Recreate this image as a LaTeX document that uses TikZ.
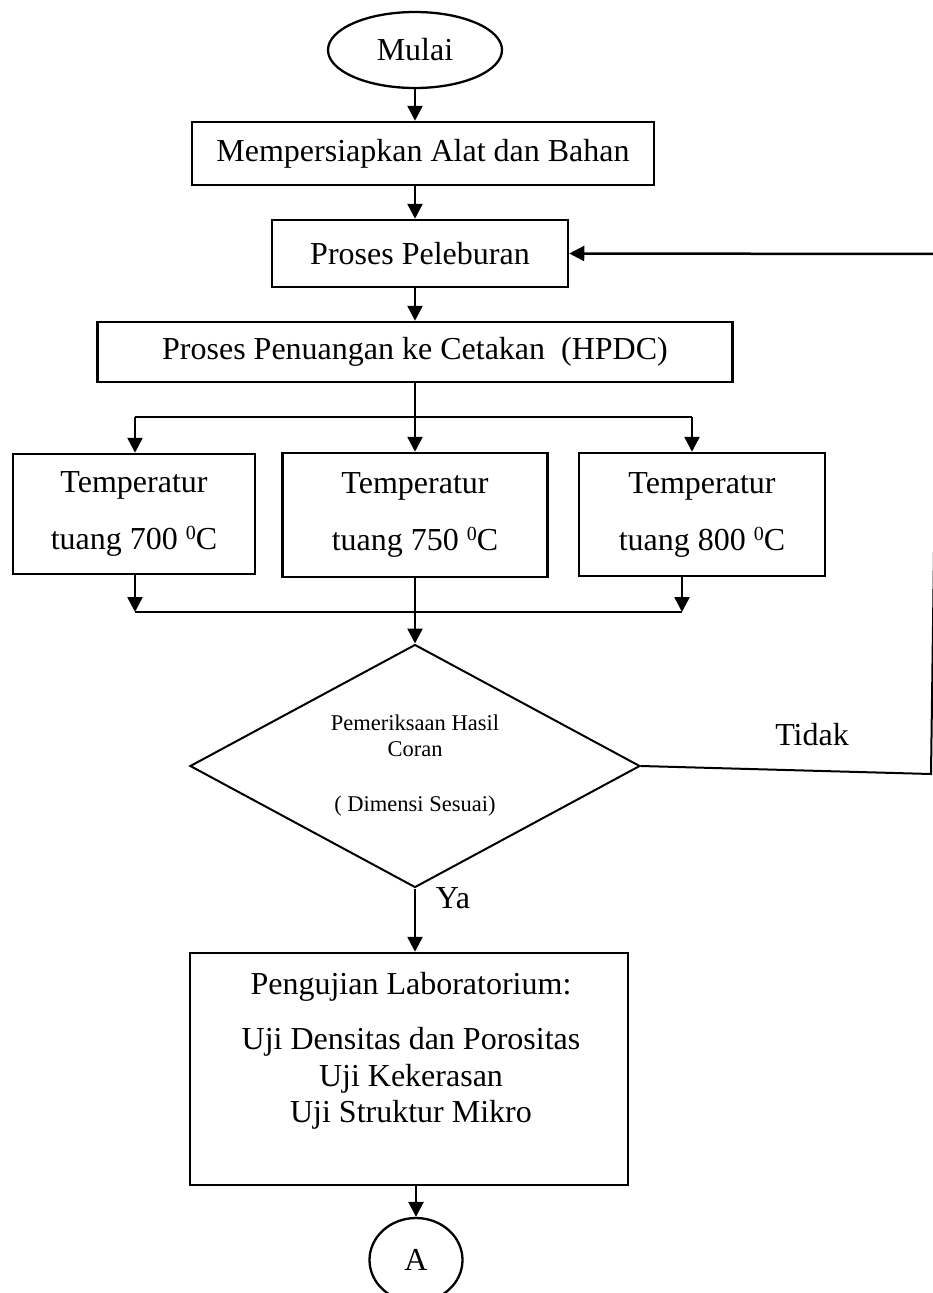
\documentclass[tikz,border=0pt]{standalone}
\usepackage{fontspec}
\setmainfont{Liberation Serif}
\usetikzlibrary{arrows.meta,shapes.geometric}
\newcommand{\degsup}{\raisebox{10pt}{\fontsize{20}{20}\selectfont 0}}
\begin{document}
\begin{tikzpicture}[x=1pt,y=-1pt,
  box/.style={draw, line width=2.5pt, rectangle, inner sep=0pt, align=center, font=\fontsize{32}{57}\selectfont},
  oval/.style={draw, line width=2.3pt, ellipse, inner sep=0pt, font=\fontsize{32}{38}\selectfont},
  arr/.style={line width=2.5pt, -{Triangle[length=15pt,width=15pt]}},
  ln/.style={line width=2.5pt},
  thin/.style={line width=2pt},
  lbl/.style={inner sep=0pt, font=\fontsize{32}{38}\selectfont}]
\useasboundingbox (0,0) rectangle (933,1293);

\node[oval, minimum width=174pt, minimum height=76pt] (mulai) at (415,50) {Mulai};
\node[box, minimum width=462pt, minimum height=63pt] (siap) at (423,153.5) {Mempersiapkan Alat dan Bahan};
\node[box, minimum width=296pt, minimum height=67pt] (lebur) at (420,253.5) {Proses Peleburan};
\node[box, minimum width=635pt, minimum height=60pt] (tuang) at (415,352) {Proses Penuangan ke Cetakan\ \ (HPDC)};

\node[box, minimum width=242pt, minimum height=120pt] (t1) at (134,514) {Temperatur\\tuang 700 \degsup C};
\node[box, minimum width=265pt, minimum height=124pt] (t2) at (415,515) {Temperatur\\tuang 750 \degsup C};
\node[box, minimum width=246pt, minimum height=123pt] (t3) at (702,514.5) {Temperatur\\tuang 800 \degsup C};

\node[draw, diamond, thin, shape aspect=1.85, minimum width=450pt, minimum height=243pt, inner sep=0pt, align=center, font=\fontsize{22.5}{26}\selectfont] (dia) at (415,766) {Pemeriksaan Hasil\\Coran\\[29pt]( Dimensi Sesuai)};

\node[box, minimum width=438pt, minimum height=232pt] (uji) at (409,1069) {};
\node[lbl, align=center, font=\fontsize{32}{36.5}\selectfont] (ujitext) at (411,1051) {Pengujian Laboratorium:\\[18.5pt]Uji Densitas dan Porositas\\Uji Kekerasan\\Uji Struktur Mikro};

\node[oval, minimum width=93pt, minimum height=84pt] (A) at (416,1260) {A};

\node[lbl] (tidak) at (812,735) {Tidak};
\node[lbl] (ya) at (453,898) {Ya};

% main flow
\draw[arr] (mulai.south) -- (mulai.south |- siap.north);
\draw[arr] (mulai.south |- siap.south) -- (mulai.south |- lebur.north);
\draw[arr] (mulai.south |- lebur.south) -- (mulai.south |- tuang.north);

% split
\coordinate (sl) at (135,417);
\coordinate (sr) at (692,417);
\draw[arr] (tuang.south) -- (t2.north);
\draw[ln] (sl) -- (sr);
\draw[arr] (sl) -- (sl |- t1.north);
\draw[arr] (sr) -- (sr |- t3.north);

% merge
\coordinate (ml) at (135,612);
\coordinate (mr) at (682,612);
\draw[arr] (ml |- t1.south) -- (ml);
\draw[arr] (mr |- t3.south) -- (mr);
\draw[ln] (ml) -- (mr);
\draw[arr] (t2.south) -- (dia.north);

% Tidak loop
\coordinate (k1) at (931,774);
\coordinate (k2) at (938,254);
\draw[thin] (dia.east) -- (k1) -- (k2);
\draw[arr] (k2) -- (lebur.east);

% Ya
\draw[arr] (dia.south) -- (dia.south |- uji.north);
\draw[arr] (A.north |- uji.south) -- (A.north);
\end{tikzpicture}
\end{document}
